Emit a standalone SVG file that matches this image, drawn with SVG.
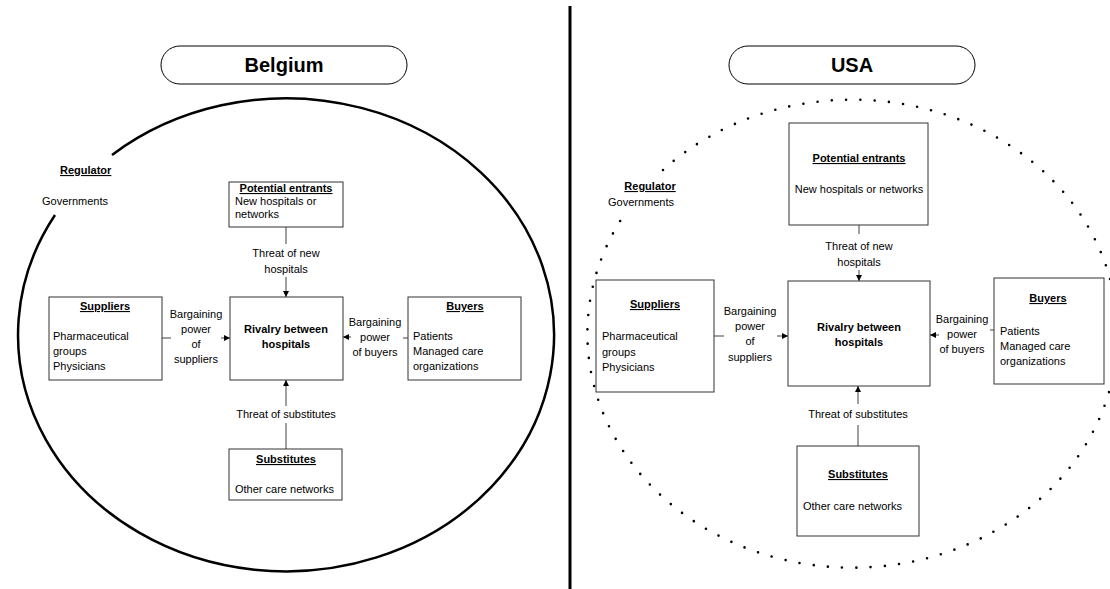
<svg xmlns="http://www.w3.org/2000/svg" width="1110" height="589" viewBox="0 0 1110 589">
<defs>
<marker id="arr" markerUnits="userSpaceOnUse" markerWidth="7" markerHeight="7" refX="6" refY="3" orient="auto">
<path d="M0,0 L6,3 L0,6 z" fill="#000"/>
</marker>
<style>
text{font-family:"Liberation Sans",Arial,sans-serif;font-size:11px;fill:#000}
.b{font-weight:bold}
.u{font-weight:bold;text-decoration:underline}
.c{text-anchor:middle}
.title{font-size:20px;font-weight:bold;text-anchor:middle}
.pill{fill:#fff;stroke:#000;stroke-width:1}
.box{fill:#fff;stroke:#333;stroke-width:1}
.con line{stroke:#808080;stroke-width:1.5}
.arrow{marker-end:url(#arr)}
</style>
</defs>
<rect width="1110" height="589" fill="#fff"/>
<line x1="570" y1="6" x2="570" y2="589" stroke="#000" stroke-width="3"/>

<!-- Belgium -->
<g id="belgium-title">
<rect class="pill" x="161" y="46" width="246" height="38" rx="19"/>
<text class="title" x="284" y="72">Belgium</text>
</g>
<path id="belgium-regulator-boundary" d="M112,155 A268,236.5 0 1 1 55,215" fill="none" stroke="#000" stroke-width="2.5"/>
<g id="be-regulator">
<text class="u" x="60" y="174">Regulator</text>
<text x="42" y="205">Governments</text>
</g>

<g id="be-connectors" class="con">
<line x1="286" y1="227" x2="286" y2="244"/>
<line class="arrow" x1="286" y1="277" x2="286" y2="297"/>
<line x1="286" y1="449" x2="286" y2="423"/>
<line class="arrow" x1="286" y1="406" x2="286" y2="380"/>
<line x1="162" y1="338" x2="171" y2="338"/>
<line class="arrow" x1="221" y1="338" x2="230" y2="338"/>
<line x1="408" y1="338" x2="403" y2="338"/>
<line class="arrow" x1="351" y1="337" x2="343" y2="337"/>
<text class="c" x="286" y="257">Threat of new</text>
<text class="c" x="286" y="273">hospitals</text>
<text class="c" x="286" y="418">Threat of substitutes</text>
<text class="c" x="196" y="318">Bargaining</text>
<text class="c" x="196" y="333">power</text>
<text class="c" x="196" y="348">of</text>
<text class="c" x="196" y="363">suppliers</text>
<text class="c" x="375" y="326">Bargaining</text>
<text class="c" x="375" y="341">power</text>
<text class="c" x="375" y="356">of buyers</text>
</g>

<g id="be-entrants">
<rect class="box" x="229" y="182" width="114" height="45"/>
<text class="u c" x="286" y="192">Potential entrants</text>
<text x="235" y="205">New hospitals or</text>
<text x="235" y="218">networks</text>
</g>
<g id="be-rivalry">
<rect class="box" x="230" y="297" width="113" height="83"/>
<text class="b c" x="286" y="333">Rivalry between</text>
<text class="b c" x="286" y="348">hospitals</text>
</g>
<g id="be-suppliers">
<rect class="box" x="49" y="297" width="113" height="83"/>
<text class="u c" x="105" y="310">Suppliers</text>
<text x="53" y="340">Pharmaceutical</text>
<text x="53" y="355">groups</text>
<text x="53" y="370">Physicians</text>
</g>
<g id="be-buyers">
<rect class="box" x="408" y="297" width="113" height="83"/>
<text class="u c" x="465" y="310">Buyers</text>
<text x="413" y="340">Patients</text>
<text x="413" y="355">Managed care</text>
<text x="413" y="370">organizations</text>
</g>
<g id="be-substitutes">
<rect class="box" x="229" y="449" width="113" height="51"/>
<text class="u c" x="286" y="463">Substitutes</text>
<text x="235" y="493">Other care networks</text>
</g>

<!-- USA -->
<g id="usa-title">
<rect class="pill" x="729" y="46" width="246" height="38" rx="19"/>
<text class="title" x="852" y="72">USA</text>
</g>
<path id="usa-regulator-boundary" d="M663,170 A265,234 0 1 1 624,215" fill="none" stroke="#000" stroke-width="2.6" stroke-linecap="round" stroke-dasharray="0 14.3"/>
<g id="usa-regulator">
<text class="u c" x="650" y="190">Regulator</text>
<text x="608" y="206">Governments</text>
</g>

<g id="usa-connectors" class="con">
<line x1="859" y1="225" x2="859" y2="234"/>
<line class="arrow" x1="859" y1="270" x2="859" y2="281"/>
<line x1="858" y1="446" x2="858" y2="425"/>
<line class="arrow" x1="858" y1="404" x2="858" y2="386"/>
<line x1="714" y1="336" x2="724" y2="336"/>
<line class="arrow" x1="777" y1="336" x2="788" y2="336"/>
<line x1="994" y1="330" x2="990" y2="330"/>
<line class="arrow" x1="939" y1="335" x2="930" y2="335"/>
<text class="c" x="859" y="250">Threat of new</text>
<text class="c" x="859" y="266">hospitals</text>
<text class="c" x="858" y="418">Threat of substitutes</text>
<text class="c" x="750" y="315">Bargaining</text>
<text class="c" x="750" y="330">power</text>
<text class="c" x="750" y="345">of</text>
<text class="c" x="750" y="361">suppliers</text>
<text class="c" x="962" y="323">Bargaining</text>
<text class="c" x="962" y="338">power</text>
<text class="c" x="962" y="353">of buyers</text>
</g>

<g id="usa-entrants">
<rect class="box" x="789" y="123" width="139" height="102"/>
<text class="u c" x="859" y="162">Potential entrants</text>
<text class="c" x="859" y="193">New hospitals or networks</text>
</g>
<g id="usa-rivalry">
<rect class="box" x="788" y="281" width="142" height="105"/>
<text class="b c" x="859" y="331">Rivalry between</text>
<text class="b c" x="859" y="346">hospitals</text>
</g>
<g id="usa-suppliers">
<rect class="box" x="596" y="280" width="118" height="112"/>
<text class="u c" x="655" y="308">Suppliers</text>
<text x="602" y="340">Pharmaceutical</text>
<text x="602" y="356">groups</text>
<text x="602" y="371">Physicians</text>
</g>
<g id="usa-buyers">
<rect class="box" x="994" y="278" width="110" height="106"/>
<text class="u c" x="1048" y="302">Buyers</text>
<text x="1000" y="335">Patients</text>
<text x="1000" y="350">Managed care</text>
<text x="1000" y="365">organizations</text>
</g>
<g id="usa-substitutes">
<rect class="box" x="797" y="446" width="122" height="90"/>
<text class="u c" x="858" y="478">Substitutes</text>
<text x="803" y="510">Other care networks</text>
</g>
</svg>
